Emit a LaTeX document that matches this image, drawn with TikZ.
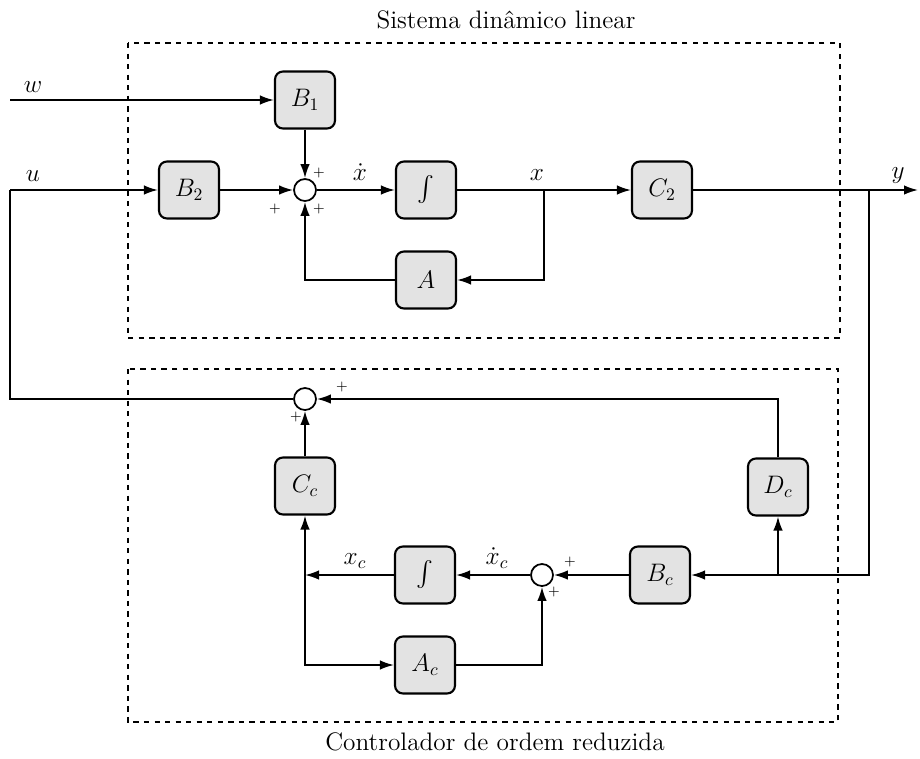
\documentclass[tikz,border=0pt]{standalone}
\usepackage{amsmath}
\usepackage{tikz}
\usetikzlibrary{positioning,arrows.meta}

\tikzset{
  blk/.style={draw, line width=1.2pt, rounded corners=4.5pt, fill=gray!22,
    minimum width=1.2cm, minimum height=1.14cm, inner sep=0pt},
  sumnode/.style={draw, circle, line width=1pt, minimum size=0.44cm, inner sep=0pt},
  sig/.style={-{Latex[length=2.8mm,width=1.9mm]}, line width=1pt},
  wire/.style={line width=1pt},
  frame/.style={dashed, line width=0.9pt},
  pl/.style={font=\footnotesize, inner sep=0pt}
}

\begin{document}
\begin{tikzpicture}[x=0.02cm, y=-0.02cm, font=\Large]
  \useasboundingbox (0,0) rectangle (920,758);

  % dashed frames
  \draw[frame] (128,43) rectangle (840,338);
  \draw[frame] (128,369) rectangle (838,722);
  \node (tsys) at (506,20) {Sistema din\^amico linear};
  \node (tctl) at (495,742) {Controlador de ordem reduzida};

  % blocks
  \foreach \nm/\px/\py/\txt in {B1/305/100/B_1, B2/189/190/B_2, int/426/190/\int,
      C2/662/190/C_2, A/426/280/A, Cc/305/486/C_c, Dc/778/487/D_c,
      Bc/660/575/B_c, intc/425/575/\int, Ac/425/665/A_c}
    \node[blk] (\nm) at (\px,\py) {$\txt$};

  % summing junctions
  \foreach \nm/\px/\py in {s1/305/190, s2/305/399, s3/542/575}
    \node[sumnode] (\nm) at (\px,\py) {};

  % branch points and free ends
  \coordinate (win) at (10,100);
  \coordinate (uin) at (10,190);
  \coordinate (xb) at (544,190);
  \coordinate (yb) at (869,190);
  \coordinate (yout) at (918,190);
  \coordinate (dcb) at (778,575);
  \coordinate (xcb) at (305,575);

  % plant
  \draw[sig] (win) -- (B1);
  \draw[sig] (B1) -- (s1);
  \draw[sig] (uin) -- (B2);
  \draw[sig] (B2) -- (s1);
  \draw[sig] (s1) -- (int);
  \draw[sig] (int) -- (C2);
  \draw[sig] (xb) |- (A);
  \draw[sig] (A) -| (s1);
  \draw[sig] (C2) -- (yout);

  % controller
  \draw[sig] (yb) |- (Bc);
  \draw[sig] (dcb) -- (Dc);
  \draw[sig] (Dc) |- (s2);
  \draw[sig] (Cc) -- (s2);
  \draw[wire] (s2) -| (uin);
  \draw[sig] (Bc) -- (s3);
  \draw[sig] (s3) -- (intc);
  \draw[sig] (intc) -- (xcb);
  \draw[sig] (xcb) -- (Cc);
  \draw[sig] (xcb) |- (Ac);
  \draw[sig] (Ac) -| (s3);

  % signal names
  \node (lw) at (33,87) {$w$};
  \node (lu) at (33,176) {$u$};
  \node (lxd) at (360,172) {$\dot x$};
  \node (lx) at (537,175) {$x$};
  \node (ly) at (898,176) {$y$};
  \node (lxcd) at (497,558) {$\dot x_c$};
  \node (lxc) at (355,561) {$x_c$};

  % signs
  \node[pl] (p1) at (319,173) {$+$};
  \node[pl] (p2) at (275,209) {$+$};
  \node[pl] (p3) at (319,209) {$+$};
  \node[pl] (p4) at (342,387) {$+$};
  \node[pl] (p5) at (296,417) {$+$};
  \node[pl] (p6) at (570,562) {$+$};
  \node[pl] (p7) at (554,592) {$+$};
\end{tikzpicture}
\end{document}
